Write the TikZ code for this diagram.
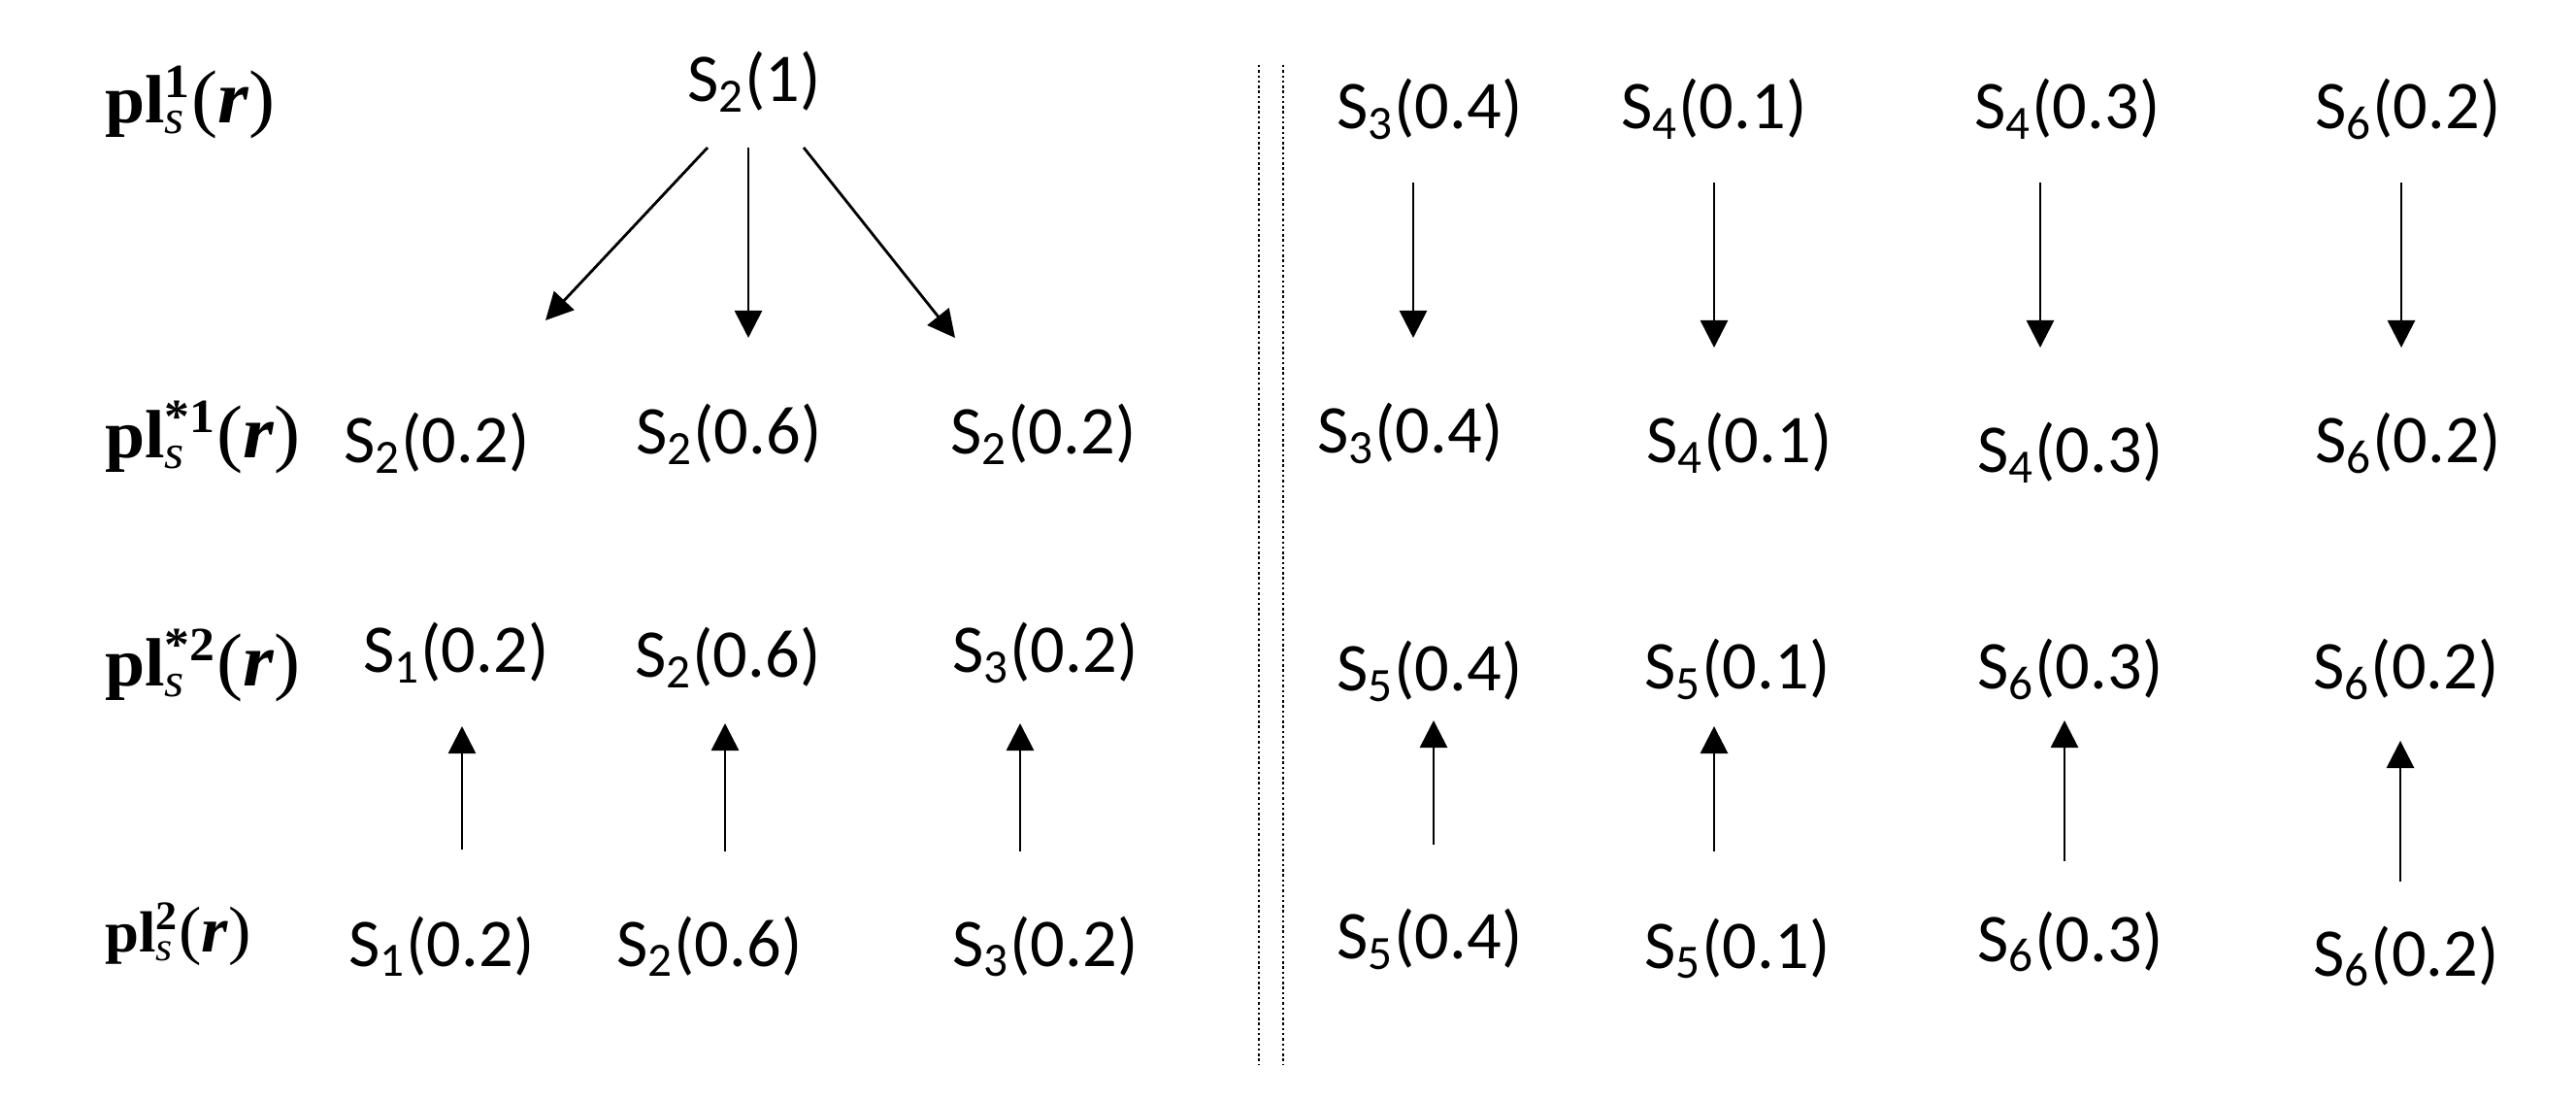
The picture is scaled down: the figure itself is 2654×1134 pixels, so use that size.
\documentclass[tikz,border=0pt]{standalone}
\usepackage{fontspec}
\setmainfont{Liberation Serif}[FakeStretch=1.05]
\newfontfamily\calfont{Carlito}
\usetikzlibrary{arrows.meta,calc}

\newcommand\plname[2]{\textbf{pl}\makebox[0pt][l]{\textsubscript{\textit{s}}}\textsuperscript{\textbf{#1}}{\fontsize{#2}{#2}\selectfont(\textbf{\textit{r}})}}
\newcommand\sv[2]{S\textsubscript{#1}(#2)}

\tikzset{
  lab/.style={anchor=base west, inner sep=0pt, font=\fontsize{20}{24}\selectfont},
  val/.style={anchor=base, inner sep=0pt, font=\calfont\fontsize{20}{24}\selectfont},
  sep/.style={line width=0.7pt, dash pattern=on 0.7pt off 0.8pt},
}

\begin{document}
\begin{tikzpicture}[x=0.01cm, y=-0.01cm, >={Triangle[width=8pt,length=8pt]}, line width=0.8pt]
\useasboundingbox (0,0) rectangle (2654,1134);

% row labels
\node[lab] (p1) at (107,127) {\plname{1}{22}};
\node[lab] (p2) at (107,472) {\plname{*1}{22}};
\node[lab] (p3) at (107,707) {\plname{*2}{22}};
\node[lab, font=\fontsize{17}{20}\selectfont] (p4) at (107,980) {\plname{2}{19}};

% left part
\node[val] (t) at (777,105) {\sv{2}{1}};
\node[val] (a1) at (450,477) {\sv{2}{0.2}};
\node[val] (a2) at (751,468) {\sv{2}{0.6}};
\node[val] (a3) at (1075,468) {\sv{2}{0.2}};
\node[val] (b1) at (470,693) {\sv{1}{0.2}};
\node[val] (b2) at (750,698) {\sv{2}{0.6}};
\node[val] (b3) at (1077,693) {\sv{3}{0.2}};
\node[val] (c1) at (455,995) {\sv{1}{0.2}};
\node[val] (c2) at (731,995) {\sv{2}{0.6}};
\node[val] (c3) at (1077,995) {\sv{3}{0.2}};

\draw[->] ($(t.base)+(-48,47)$) -- ($(a1.base)+(112,-147)$);
\draw[->] ($(t.base)+(-6,47)$) -- ($(a2.base)+(20,-120)$);
\draw[->] ($(t.base)+(51,47)$) -- ($(a3.base)+(-91,-120)$);
\draw[->] ($(c1.base)+(21,-120)$) -- ($(b1.base)+(6,55)$);
\draw[->] ($(c2.base)+(16,-118)$) -- ($(b2.base)+(-3,47)$);
\draw[->] ($(c3.base)+(-26,-118)$) -- ($(b3.base)+(-26,52)$);

% separator
\draw[sep] (1297,67) -- (1297,1097);
\draw[sep] (1322,67) -- (1322,1097);

% right part
\node[val] (d1) at (1473,133) {\sv{3}{0.4}};
\node[val] (d2) at (1766,133) {\sv{4}{0.1}};
\node[val] (d3) at (2130,133) {\sv{4}{0.3}};
\node[val] (d4) at (2481,133) {\sv{6}{0.2}};
\node[val] (e1) at (1453,467) {\sv{3}{0.4}};
\node[val] (e2) at (1792,477) {\sv{4}{0.1}};
\node[val] (e3) at (2133,487) {\sv{4}{0.3}};
\node[val] (e4) at (2481,477) {\sv{6}{0.2}};
\node[val] (f1) at (1473,712) {\sv{5}{0.4}};
\node[val] (f2) at (1790,710) {\sv{5}{0.1}};
\node[val] (f3) at (2133,710) {\sv{6}{0.3}};
\node[val] (f4) at (2479,710) {\sv{6}{0.2}};
\node[val] (g1) at (1473,988) {\sv{5}{0.4}};
\node[val] (g2) at (1790,997) {\sv{5}{0.1}};
\node[val] (g3) at (2133,990) {\sv{6}{0.3}};
\node[val] (g4) at (2479,1005) {\sv{6}{0.2}};

\draw[->] ($(d1.base)+(-17,55)$) -- ($(e1.base)+(3,-119)$);
\draw[->] ($(d2.base)+(0,55)$) -- ($(e2.base)+(-26,-119)$);
\draw[->] ($(d3.base)+(-28,55)$) -- ($(e3.base)+(-31,-129)$);
\draw[->] ($(d4.base)+(-7,55)$) -- ($(e4.base)+(-7,-119)$);
\draw[->] ($(g1.base)+(4,-118)$) -- ($(f1.base)+(4,30)$);
\draw[->] ($(g2.base)+(-24,-120)$) -- ($(f2.base)+(-24,38)$);
\draw[->] ($(g3.base)+(-6,-103)$) -- ($(f3.base)+(-6,32)$);
\draw[->] ($(g4.base)+(-6,-97)$) -- ($(f4.base)+(-6,53)$);
\end{tikzpicture}
\end{document}
